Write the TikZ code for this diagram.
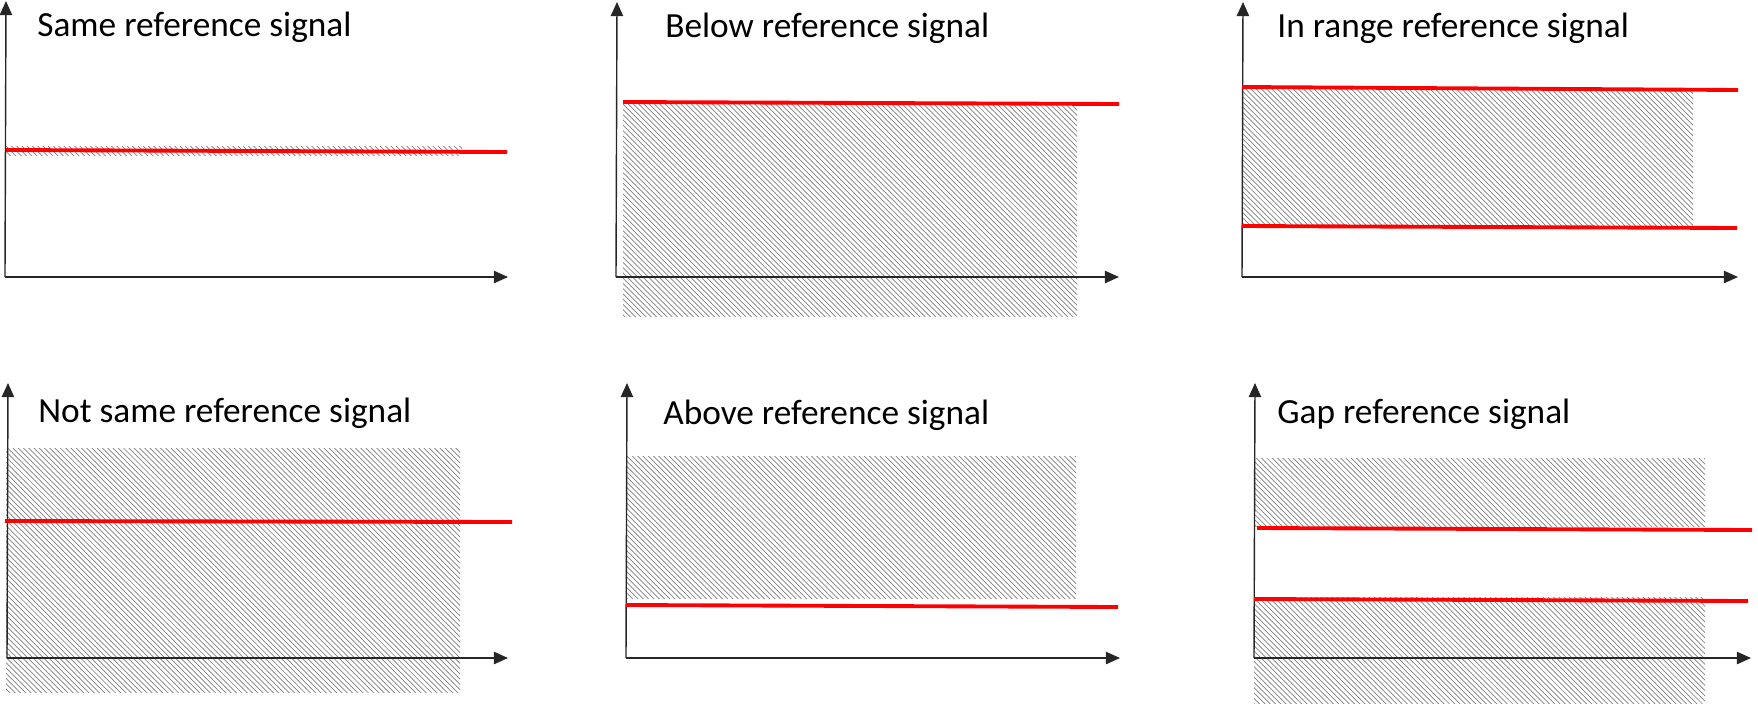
\documentclass[tikz,border=0pt]{standalone}
\usepackage{fontspec}
\setmainfont{Carlito}
\usetikzlibrary{arrows.meta,patterns}

\tikzset{
  axis/.style={black!85, line width=0.8pt, -{Triangle[length=8pt,width=7pt]}},
  band/.style={pattern=north west lines, pattern color=gray},
  refline/.style={red, line width=2.2pt},
  caption/.style={anchor=base west, inner sep=0pt, font=\fontsize{20.1}{24}\selectfont}
}

\begin{document}
\begin{tikzpicture}[x=0.02cm, y=-0.02cm]
    \useasboundingbox (0,0) rectangle (1758,704);

    % Hatched bands (allowed values)
    \fill[band] (6,146) rectangle (462,155);
    \fill[band] (623,103) rectangle (1077,316);
    \fill[band] (1242,89) rectangle (1693,226);
    \fill[band] (6,448) rectangle (460,692);
    \fill[band] (627,456) rectangle (1076,598);
    \fill[band] (1254,458) rectangle (1705,526);
    \fill[band] (1254,597) rectangle (1705,703);

    % Axes: origin x/origin y/x end/y end
    \foreach \ox/\oy/\xe/\ye in {5/277/508/1, 616/277/1119/2, 1242/277/1738/2,
                                 7/658/508/383, 626/658/1120/383, 1254/658/1751/383}{
        \draw[axis] (\ox,\oy) -- (\ox+1,\ye);
        \draw[axis] (\ox,\oy) -- (\xe,\oy);
    }

    % Reference signals
    \draw[refline] (6,150) -- (507,152);
    \draw[refline] (623,102) -- (1119,104);
    \draw[refline] (1242,87) -- (1738,90);
    \draw[refline] (1242,226) -- (1737,228);
    \draw[refline] (5,521) -- (512,522);
    \draw[refline] (626,605) -- (1118,607);
    \draw[refline] (1257,528) -- (1752,530);
    \draw[refline] (1254,599) -- (1748,601);

    % Titles
    \node[caption] (same)    at (37,36)    {Same reference signal};
    \node[caption] (below)   at (665,37)   {Below reference signal};
    \node[caption] (inrange) at (1277,37)  {In range reference signal};
    \node[caption] (notsame) at (38,422)   {Not same reference signal};
    \node[caption] (above)   at (663,424)  {Above reference signal};
    \node[caption] (gap)     at (1277,423) {Gap reference signal};
\end{tikzpicture}
\end{document}
